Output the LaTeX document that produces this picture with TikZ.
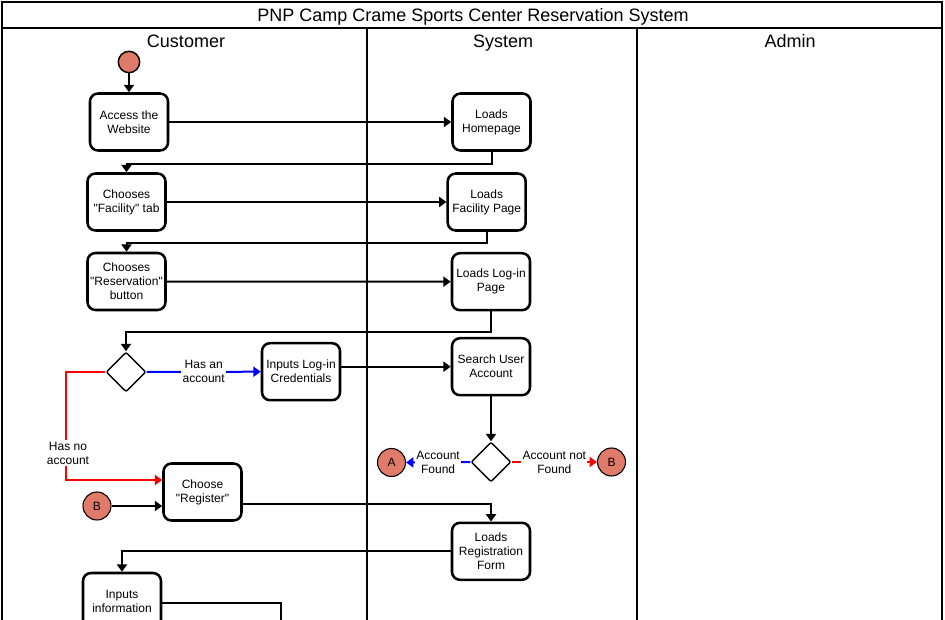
\documentclass[tikz,border=0pt]{standalone}
\usepackage{fontspec}
\setmainfont{Liberation Sans}
\usetikzlibrary{shapes.geometric,arrows.meta}
\definecolor{salmon}{RGB}{224,122,106}
\newcommand{\qq}{\textquotedbl}
\tikzset{
  stepbox/.style={draw, line width=1.9pt, rounded corners=6pt, minimum width=58.5pt, minimum height=42.75pt, inner sep=0pt, align=center, font=\fontsize{9}{10.5}\selectfont, fill=white},
  dec/.style={draw, diamond, line width=1.1pt, rounded corners=1.5pt, minimum width=30pt, minimum height=30pt, inner sep=0pt, fill=white},
  circ/.style={draw, circle, line width=0.8pt, fill=salmon, minimum size=21pt, inner sep=0pt, font=\fontsize{9}{10.5}\selectfont},
  conn/.style={line width=1.5pt, -{Triangle[length=5.5pt,width=7.5pt]}},
  plain/.style={line width=1.5pt},
  lbl/.style={fill=white, inner sep=1pt, align=center, font=\fontsize{9}{10.5}\selectfont},
  lane/.style={draw, line width=1.2pt},
  hdr/.style={font=\fontsize{13.5}{15}\selectfont, inner sep=0pt, text height=10pt, text depth=3pt}
}
\begin{document}
\begin{tikzpicture}[x=0.75pt,y=-0.75pt]
\useasboundingbox (0,0) rectangle (945,620);
\clip (0,0) rectangle (945,620);
\fill[white] (0,0) rectangle (945,620);
% swimlane frame
\draw[lane] (2,2) rectangle (942,660);
\draw[lane] (2,28) -- (942,28);
\draw[line width=1.5pt] (367,28) -- (367,660);
\draw[lane] (637,28) -- (637,660);
\node[hdr] (title) at (473,16.5) {PNP Camp Crame Sports Center Reservation System};
\node[hdr] (hcust) at (186,42.5) {Customer};
\node[hdr] (hsys) at (503,42.5) {System};
\node[hdr] (hadm) at (790,42.5) {Admin};

% nodes
\node[circ, minimum size=16pt, line width=1.1pt] (start) at (129,62) {};
\node[stepbox] (acc) at (129,122) {Access the\\Website};
\node[stepbox] (home) at (491.5,122) {Loads\\Homepage};
\node[stepbox] (fac) at (126.5,202) {Chooses\\\qq Facility\qq\ tab};
\node[stepbox] (facp) at (486.7,202) {Loads\\Facility Page};
\node[stepbox] (res) at (126.5,281.5) {Chooses\\\qq Reservation\qq\\button};
\node[stepbox] (login) at (491,281.7) {Loads Log-in\\Page};
\node[dec] (d1) at (126,372) {};
\node[stepbox] (cred) at (301,371.7) {Inputs Log-in\\Credentials};
\node[stepbox] (search) at (491,366.7) {Search User\\Account};
\node[dec] (d2) at (491,462) {};
\node[circ] (A) at (391.5,462.5) {A};
\node[circ] (B2) at (611.5,462) {B};
\node[stepbox] (reg) at (202.5,492) {Choose\\\qq Register\qq};
\node[circ] (B1) at (97,506) {B};
\node[stepbox] (regf) at (491,551.3) {Loads\\Registration\\Form};
\node[stepbox] (info) at (122,601.5) {Inputs\\information};
\coordinate (off) at (281,660);

% connectors
\draw[conn] (start) -- (acc);
\draw[conn] (acc) -- (home);
\draw[conn] (home.south) -- ++(0,12) -| (fac.north);
\draw[conn] (fac) -- (facp);
\draw[conn] (facp.south) -- ++(0,11) -| (res.north);
\draw[conn] (res) -- (login);
\draw[conn] (login.south) -- ++(0,21) -| (d1.north);
\draw[conn, blue] (d1.east) -- node[lbl, text=black] (lhas) {Has an\\account} (cred.west);
\draw[conn] (cred.east |- search) -- (search.west);
\draw[conn] (search.south) -- (d2.north);
\draw[conn, blue] (d2.west) -- node[lbl, text=black] (lfound) {Account\\Found} (A.east);
\draw[conn, red] (d2.east) -- node[lbl, text=black] (lnot) {Account not\\Found} (B2.west);
\draw[conn, red] (d1.west) -- ++(-39,0) |- ([yshift=9pt]reg.west);
\node[lbl] (lno) at (68,453) {Has no\\account};
\draw[conn] (B1.east) -- (B1 -| reg.west);
\draw[conn] ([yshift=-9pt]reg.east) -| (regf.north);
\draw[conn] (regf.west) -| (info.north);
\draw[plain] ([yshift=-1pt]info.east) -| (off);
\end{tikzpicture}
\end{document}
